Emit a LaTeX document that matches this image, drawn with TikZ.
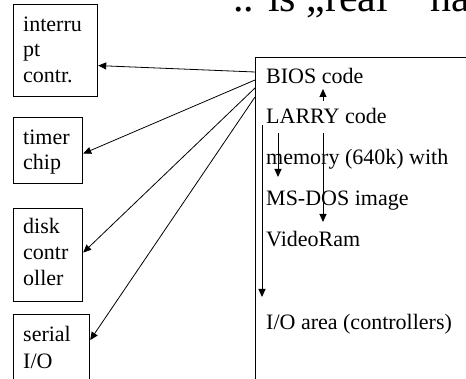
\documentclass[tikz,border=0pt]{standalone}
\usepackage{fontspec}
\setmainfont{Liberation Serif}
\usetikzlibrary{arrows.meta}
\begin{document}
\begin{tikzpicture}[x=1pt,y=-1pt,
  box/.style={draw, line width=1.2pt, inner sep=0pt, anchor=north west},
  txt/.style={anchor=base west, inner sep=0pt, font=\fontsize{22}{25}\selectfont},
  link/.style={line width=0.8pt, -{Triangle[length=8pt,width=7pt]}},
  flow/.style={line width=1pt, -{Triangle[length=8pt,width=7pt]}},
]
\useasboundingbox (0,0) rectangle (466,379);
\clip (0,0) rectangle (466,379);

% heading, running off the right edge
\node[anchor=base west, inner sep=0pt, font=\fontsize{42}{46}\selectfont]
  (head) at (233,12) {.. is „real“\hspace{13pt} ha};

% memory map block (continues past the right and bottom edges)
\node[box, minimum width=300pt, minimum height=400pt] (mem) at (255,57) {};
\node[txt] (bios)  at (266,84)  {BIOS code};
\node[txt] (larry) at (266,124) {LARRY code};
\node[txt] (ram)   at (266,165) {memory (640k) with};
\node[txt] (dos)   at (266,206) {MS-DOS image};
\node[txt] (video) at (266,247) {VideoRam};
\node[txt] (io)    at (266,330) {I/O area (controllers)};

% peripheral devices
\node[box, minimum width=84pt, minimum height=92pt] (intr)   at (13,4)   {};
\node[box, minimum width=69pt, minimum height=66pt] (timer)  at (13,117) {};
\node[box, minimum width=69pt, minimum height=93pt] (disk)   at (13,208) {};
\node[box, minimum width=76pt, minimum height=66pt] (serial) at (13,314) {};

\node[txt] (intrA) at (23,32)  {interru};
\node[txt] (intrB) at (23,57)  {pt};
\node[txt] (intrC) at (23,83)  {contr.};
\node[txt] (timA)  at (23,145) {timer};
\node[txt] (timB)  at (23,170) {chip};
\node[txt] (dskA)  at (23,234) {disk};
\node[txt] (dskB)  at (23,260) {contr};
\node[txt] (dskC)  at (23,286) {oller};
\node[txt] (serA)  at (23,342) {serial};
\node[txt] (serB)  at (23,368) {I/O};

% links from the memory block to the devices
\draw[link] ([yshift=-15pt]mem.north west) -- ([yshift=-15pt]intr.east);
\draw[link] ([yshift=-23pt]mem.north west) -- ([yshift=-3pt]timer.east);
\draw[link] ([yshift=-31pt]mem.north west) -- ([yshift=2.5pt]disk.east);
\draw[link] ([yshift=-40pt]mem.north west) -- ([yshift=7.5pt]serial.east);

% flow arrows inside the memory block
\coordinate (upFrom) at (323,101);
\coordinate (upTo)   at (323,89);
\coordinate (d1From) at (278,133);
\coordinate (d1To)   at (278,177);
\coordinate (d2From) at (323,133);
\coordinate (d2To)   at (323,222);
\coordinate (d3From) at (262,125);
\coordinate (d3To)   at (262,297);
\draw[flow] (upFrom) -- (upTo);
\draw[flow] (d1From) -- (d1To);
\draw[flow] (d2From) -- (d2To);
\draw[flow] (d3From) -- (d3To);
\end{tikzpicture}
\end{document}
